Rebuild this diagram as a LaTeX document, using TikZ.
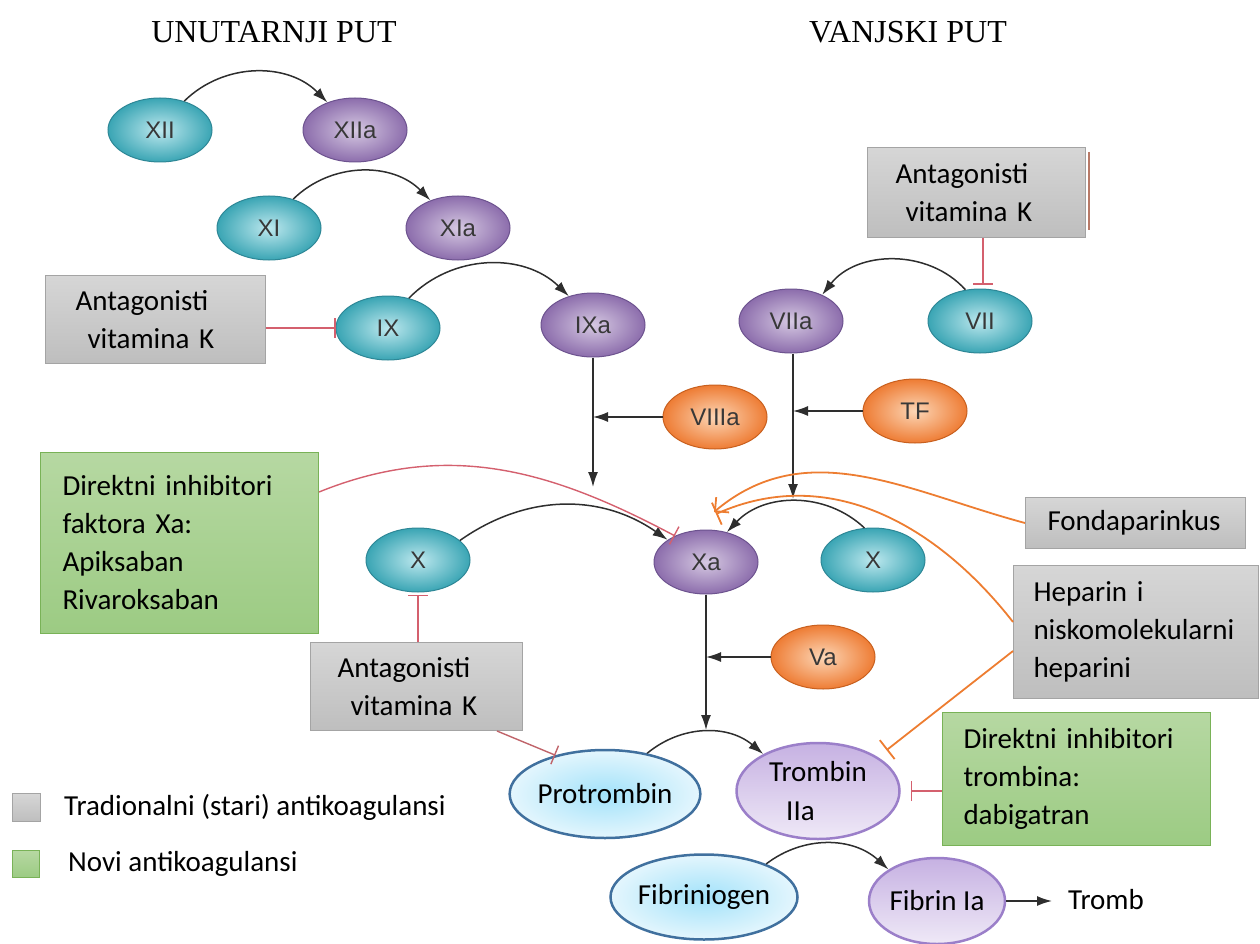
\documentclass[tikz,border=0pt]{standalone}
\usepackage{fontspec}
\setmainfont{Carlito}
\newfontfamily\facfont{Liberation Sans}
\newfontfamily\ttlfont{Liberation Serif}
\usetikzlibrary{positioning,arrows.meta,shapes.geometric}
\definecolor{tealin}{HTML}{BDE8EE}
\definecolor{tealout}{HTML}{3AA5B4}
\definecolor{tealbd}{HTML}{2E8796}
\definecolor{purin}{HTML}{D6C9E2}
\definecolor{purout}{HTML}{8C6DAC}
\definecolor{purbd}{HTML}{6D538F}
\definecolor{orin}{HTML}{FCD6B6}
\definecolor{orout}{HTML}{EE7C34}
\definecolor{orbd}{HTML}{C8601F}
\definecolor{skyin}{HTML}{A2E2FA}
\definecolor{skyout}{HTML}{E4F6FD}
\definecolor{skybd}{HTML}{40709E}
\definecolor{lilatop}{HTML}{C6B1E2}
\definecolor{lilabot}{HTML}{EFE9F7}
\definecolor{lilabd}{HTML}{9B7FC9}
\definecolor{graytop}{HTML}{D6D6D6}
\definecolor{graybot}{HTML}{BEBEBE}
\definecolor{graybd}{HTML}{A4A4A4}
\definecolor{greentop}{HTML}{B6D8A2}
\definecolor{greenbot}{HTML}{9CCB83}
\definecolor{greenbd}{HTML}{79B257}
\definecolor{arrgray}{HTML}{2E2E2E}
\definecolor{inhred}{HTML}{D4606E}
\definecolor{inhbrown}{HTML}{C0646A}
\definecolor{hepor}{HTML}{ED7D31}
\definecolor{edgebrown}{HTML}{B87A68}
\newcommand{\boxfont}{\fontsize{29}{38}\selectfont}

\begin{document}
\begin{tikzpicture}[x=1pt,y=1pt,
    fac/.style={ellipse, minimum width=104pt, minimum height=64pt, inner sep=0pt,
      line width=1pt, text=black!78, font=\facfont\fontsize{24}{28}\selectfont},
    inact/.style={fac, draw=tealbd, inner color=tealin, outer color=tealout},
    act/.style={fac, draw=purbd, inner color=purin, outer color=purout},
    cof/.style={fac, draw=orbd, inner color=orin, outer color=orout},
    sky/.style={ellipse, inner sep=0pt, line width=2.5pt, draw=skybd,
      inner color=skyin, outer color=skyout, font=\boxfont},
    lila/.style={ellipse, inner sep=0pt, line width=2.5pt, draw=lilabd,
      top color=lilatop, bottom color=lilabot, font=\boxfont, align=left},
    oldfill/.style={draw=graybd, line width=1pt, top color=graytop, bottom color=graybot},
    newfill/.style={draw=greenbd, line width=1pt, top color=greentop, bottom color=greenbot},
    oldbox/.style={oldfill, anchor=north west, align=left, inner ysep=0pt, font=\boxfont},
    newbox/.style={newfill, anchor=north west, align=left, inner ysep=0pt, font=\boxfont},
    lbl/.style={font=\boxfont, inner sep=0pt},
    title/.style={font=\ttlfont\fontsize{32}{36}\selectfont},
    conv/.style={draw=arrgray, line width=1.5pt, -{Latex[length=15pt,width=10pt]}},
    inhib/.style={draw=inhred, line width=1.4pt, -{Bar[width=20pt,line width=1.4pt]}},
    hepinh/.style={draw=hepor, line width=1.8pt, -{Bar[width=24pt,line width=1.8pt]}},
    hepact/.style={draw=hepor, line width=1.8pt, -{Straight Barb[length=10pt,width=20pt,line width=1.8pt]}}]
  \useasboundingbox (0,0) rectangle (1260,-944);

  % naslovi
  \node[title] (unut) at (274,-32) {UNUTARNJI PUT};
  \node[title] (vanj) at (908,-32) {VANJSKI PUT};

  % unutarnji put
  \node[inact] (xii)  at (160,-130) {XII};
  \node[act]   (xiia) at (355,-130) {XIIa};
  \node[inact] (xi)   at (269,-228) {XI};
  \node[act]   (xia)  at (458,-228) {XIa};
  \node[inact] (ix)   at (388,-328) {IX};
  \node[act]   (ixa)  at (593,-325) {IXa};
  \node[cof]   (viiia) at (715,-417) {VIIIa};

  % vanjski put
  \node[act]   (viia) at (791,-321) {VIIa};
  \node[inact] (vii)  at (980,-321) {VII};
  \node[cof]   (tf)   at (915,-411) {TF};

  % zajednicki put
  \node[inact] (xl) at (418,-560) {X};
  \node[act]   (xa) at (706,-562) {Xa};
  \node[inact] (xr) at (873,-560) {X};
  \node[cof]   (va) at (823,-657) {Va};
  \node[sky, minimum width=162pt, minimum height=88pt] (protr) at (605,-794) {Protrombin};
  \node[lila, minimum width=163pt, minimum height=96pt] (tromb) at (818,-791)
    {Trombin\\[1pt]\hspace*{17pt}IIa};
  \node[sky, minimum width=160pt, minimum height=85pt] (fibrgn) at (704,-897) {Fibriniogen};
  \node[lila, minimum width=136pt, minimum height=86pt] (fibr) at (937,-901) {Fibrin Ia};
  \node[lbl, anchor=west] (trmb) at (1068,-900) {Tromb};

  % pomocne tocke
  \coordinate (ixjoin) at (593,-487);
  \coordinate (viijoin) at (793,-499);
  \coordinate (xajoin) at (706,-730);
  \coordinate (xahitA) at (714,-512);
  \coordinate (xahitB) at (716,-514);

  % aktivacije
  \draw[conv] (xii.50) to[bend left=45] (xiia.135);
  \draw[conv] (xi.50) to[bend left=45] (xia.135);
  \draw[conv] (ix.55) to[bend left=45] (ixa.130);
  \draw[conv] (vii.115) to[bend right=50] (viia.40);
  \draw[conv] (xl.25) to[bend left=35] (xa.150);
  \draw[conv] (xr.105) to[bend right=45] (xa.55);
  \draw[conv] (protr.44) to[bend left=40] (tromb.146);
  \draw[conv] (fibrgn.28) to[bend left=40] (fibr.147);
  \draw[conv] (ixa.south) -- (ixjoin);
  \draw[conv] (viiia.west) -- (ixa.south |- viiia.west);
  \draw[conv] (viia.south -| viijoin) -- (viijoin);
  \draw[conv] (tf.west) -- (viijoin |- tf.west);
  \draw[conv] (xa.south) -- (xajoin);
  \draw[conv] (va.west) -- (xa.south |- va.west);
  \draw[conv] (fibr.east) -- ([xshift=-16pt]trmb.west |- fibr.east);

  % lijekovi
  \node[oldbox, text width=160pt, inner xsep=30pt, minimum height=88pt] (avkA) at (45,-275)
    {Antagonisti\\\hspace*{12pt}vitamina K};
  \node[oldbox, text width=162pt, inner xsep=28pt, minimum height=90pt] (avkB) at (867,-147)
    {Antagonisti\\\hspace*{10pt}vitamina K};
  \node[oldbox, text width=158pt, inner xsep=27pt, minimum height=88pt] (avkC) at (310,-642)
    {Antagonisti\\\hspace*{13pt}vitamina K};
  \node[oldbox, text width=176pt, inner xsep=22pt, minimum height=51pt] (fonda) at (1025,-497)
    {Fondaparinkus};
  \node[oldbox, text width=205pt, inner xsep=20pt, minimum height=133pt] (hepar) at (1013,-565)
    {Heparin i\\niskomolekularni\\heparini};
  \node[newbox, text width=234pt, inner xsep=22pt, minimum height=181pt] (dixa) at (40,-452)
    {Direktni inhibitori\\faktora Xa:\\Apiksaban\\Rivaroksaban};
  \node[newbox, text width=226pt, inner xsep=21pt, minimum height=133pt] (dtrom) at (942,-712)
    {Direktni inhibitori\\trombina:\\dabigatran};
  \draw[edgebrown, line width=1.6pt] ([xshift=3pt,yshift=-5pt]avkB.north east)
    -- ([xshift=3pt,yshift=8pt]avkB.south east);

  % inhibicije
  \draw[inhib] (avkA.east |- ix.west) -- (ix.west);
  \draw[inhib] (avkB.south -| vii.85) -- ([yshift=4pt]vii.85);
  \draw[inhib] (dixa.east |- 0,-492) to[out=22,in=152] (xa.140);
  \draw[inhib] (avkC.north -| xl.south) -- ([yshift=-2pt]xl.south);
  \draw[inhib, draw=inhbrown] ([xshift=-26pt]avkC.south east) -- (protr.142);
  \draw[inhib] (dtrom.west |- tromb.east) -- ([xshift=10pt]tromb.east);
  \draw[hepact] (fonda.west) to[out=165,in=40] (xahitA);
  \draw[hepinh] ([yshift=-57pt]hepar.north west) to[out=128,in=24] (xahitB);
  \draw[hepinh] ([yshift=48pt]hepar.south west) -- ([xshift=10pt,yshift=6pt]tromb.north east);

  % legenda
  \node[oldfill, minimum size=28pt, inner sep=0pt, anchor=north west] (legG) at (12,-793) {};
  \node[lbl, right=23pt of legG] (legGt) {Tradionalni (stari) antikoagulansi};
  \node[newfill, minimum size=27pt, inner sep=0pt, anchor=north west] (legN) at (12,-850) {};
  \node[lbl, right=28pt of legN] (legNt) {Novi antikoagulansi};
\end{tikzpicture}
\end{document}
